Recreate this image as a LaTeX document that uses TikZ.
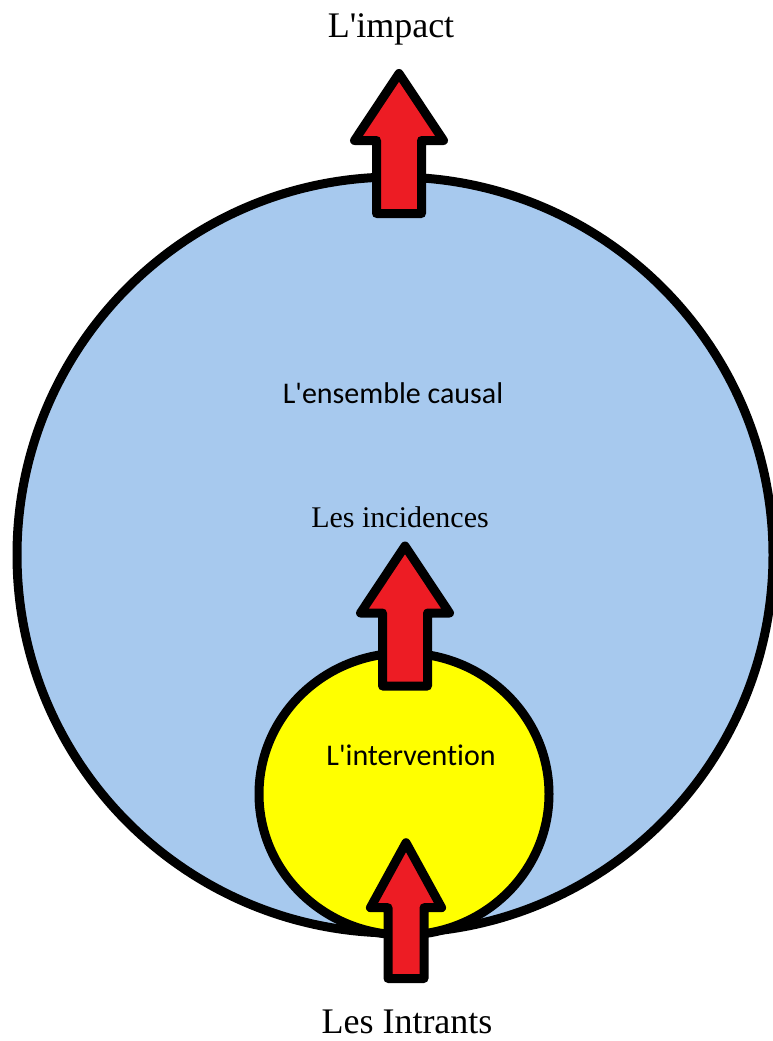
\documentclass[tikz,border=0pt]{standalone}
\usepackage{fontspec}
\setmainfont{Liberation Serif}[Ligatures=TeXOff]
\newfontfamily\labelsans{Carlito}[Ligatures={TeXOff,NoCommon}]
\usetikzlibrary{shapes.geometric}

\definecolor{causalblue}{RGB}{167,201,238}
\definecolor{arrowred}{RGB}{237,28,36}
\definecolor{intervyellow}{RGB}{255,255,0}

\begin{document}
\begin{tikzpicture}[
    x=1pt, y=-1pt,
    circ/.style={draw=black, line width=9pt, inner sep=0pt},
    serif/.style={font=\fontsize{36}{40}\selectfont, anchor=base, inner sep=0pt},
    sans/.style={font=\labelsans\fontsize{30}{34}\selectfont, anchor=base, inner sep=0pt},
    uparrow/.pic={
        \draw[line width=9pt, line join=round, fill=arrowred]
            (-22.5,0) -- (-22.5,-73) -- (-44.5,-73) -- (0,-140)
            -- (44.5,-73) -- (22.5,-73) -- (22.5,0) -- cycle;
    }
]
\useasboundingbox (0,0) rectangle (773,1041);

% Circles
\node[circ, circle, fill=causalblue, minimum size=756pt] (causal) at (395,555) {};
\node[circ, ellipse, fill=intervyellow, minimum width=290pt, minimum height=282pt] (interv) at (404,794) {};

% Arrows
\pic (arrowimpact) at (399,213.5) {uparrow};
\pic (arrowincid) at (405,686) {uparrow};
\pic[xscale=0.8, yscale=0.97] (arrowintr) at (406,978.5) {uparrow};

% Labels
\node[serif] (impact) at (391,38) {L'impact};
\node[sans] (ensemble) at (393,403) {L'ensemble causal};
\node[serif, font=\fontsize{30}{34}\selectfont] (incid) at (400,527) {Les incidences};
\node[sans] (intervention) at (411,765) {L'intervention};
\node[serif] (intrants) at (407,1033) {Les Intrants};

\end{tikzpicture}
\end{document}
